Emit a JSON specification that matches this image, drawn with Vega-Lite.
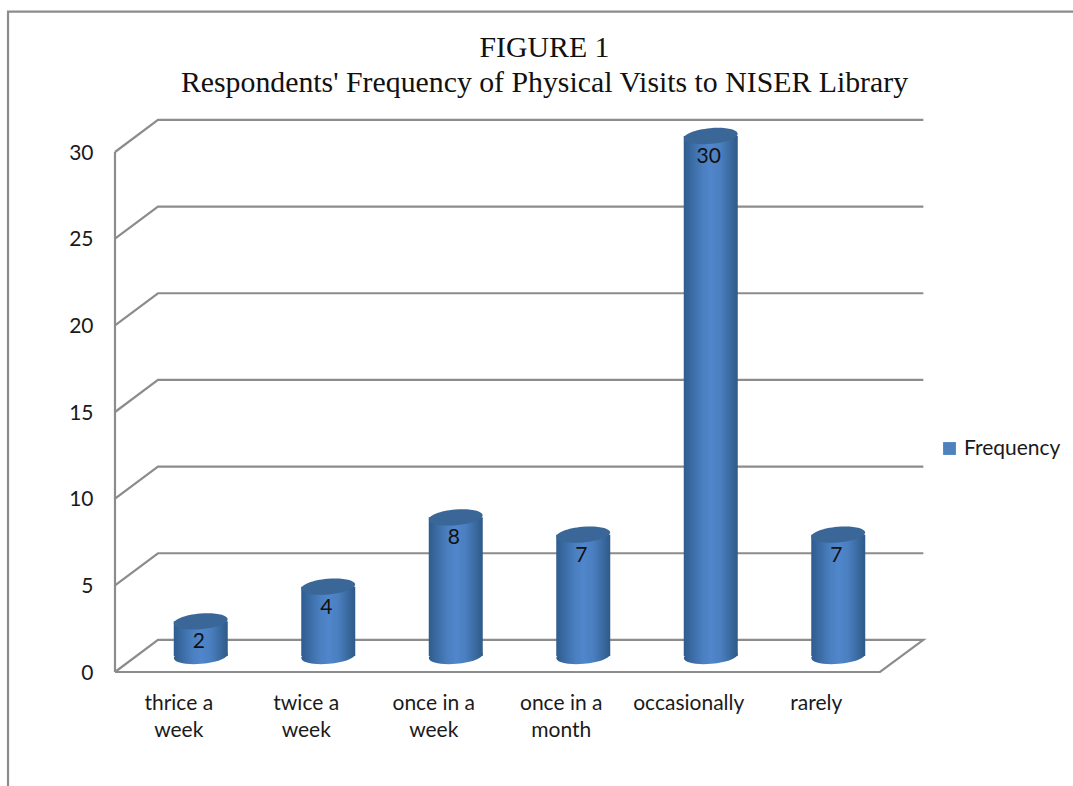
{
"$schema":"https://vega.github.io/schema/vega-lite/v6.json",
"width":765,"height":520,
"autosize":{"type":"none"},
"padding":{"left":115,"top":152,"right":193,"bottom":114},
"background":"white",
"title":{"text":["FIGURE 1","Respondents' Frequency of Physical Visits to NISER Library"],"font":"Liberation Serif","fontSize":29.8,"fontWeight":"normal","color":"#111111","lineHeight":35,"anchor":"middle","frame":"group","dx":47,"offset":-91},
"config":{"view":{"stroke":null}},
"datasets":{
"freq":[
{"category":"thrice a week","frequency":2,"series":"Frequency"},
{"category":"twice a week","frequency":4,"series":"Frequency"},
{"category":"once in a week","frequency":8,"series":"Frequency"},
{"category":"once in a month","frequency":7,"series":"Frequency"},
{"category":"occasionally","frequency":30,"series":"Frequency"},
{"category":"rarely","frequency":7,"series":"Frequency"}
],
"walls":[
{"line":"g30","step":1,"wx":0,"wy":30},{"line":"g30","step":2,"wx":0.337,"wy":31.85},{"line":"g30","step":3,"wx":6.34,"wy":31.85},
{"line":"g25","step":1,"wx":0,"wy":25},{"line":"g25","step":2,"wx":0.337,"wy":26.85},{"line":"g25","step":3,"wx":6.34,"wy":26.85},
{"line":"g20","step":1,"wx":0,"wy":20},{"line":"g20","step":2,"wx":0.337,"wy":21.85},{"line":"g20","step":3,"wx":6.34,"wy":21.85},
{"line":"g15","step":1,"wx":0,"wy":15},{"line":"g15","step":2,"wx":0.337,"wy":16.85},{"line":"g15","step":3,"wx":6.34,"wy":16.85},
{"line":"g10","step":1,"wx":0,"wy":10},{"line":"g10","step":2,"wx":0.337,"wy":11.85},{"line":"g10","step":3,"wx":6.34,"wy":11.85},
{"line":"g5","step":1,"wx":0,"wy":5},{"line":"g5","step":2,"wx":0.337,"wy":6.85},{"line":"g5","step":3,"wx":6.34,"wy":6.85},
{"line":"floor","step":1,"wx":0,"wy":0},{"line":"floor","step":2,"wx":0.337,"wy":1.85},{"line":"floor","step":3,"wx":6.34,"wy":1.85},{"line":"floor","step":4,"wx":6,"wy":0},{"line":"floor","step":5,"wx":0,"wy":0},
{"line":"left","step":1,"wx":0,"wy":0},{"line":"left","step":2,"wx":0,"wy":30},
{"line":"frame","step":1,"wx":-0.839,"wy":-6.6},{"line":"frame","step":2,"wx":-0.839,"wy":38.1},{"line":"frame","step":3,"wx":7.52,"wy":38.1}
]
},
"resolve":{"scale":{"x":"independent"}},
"encoding":{
"y":{"type":"quantitative","scale":{"domain":[0,30],"nice":false}}
},
"layer":[
{"data":{"name":"walls"},
 "mark":{"type":"line","color":"#8c8c8c","strokeWidth":2.2,"clip":false},
 "encoding":{
  "x":{"field":"wx","type":"quantitative","scale":{"domain":[0,6],"nice":false,"zero":false},"axis":null},
  "y":{"field":"wy","type":"quantitative","axis":{"title":null,"values":[0,5,10,15,20,25,30],"grid":false,"ticks":false,"domain":false,"labelFont":"Lato","labelFontSize":21,"labelColor":"#1a1a1a","labelPadding":22,"labelOffset":1}},
  "detail":{"field":"line"},
  "order":{"field":"step","type":"quantitative"}
 }},
{"data":{"name":"freq"},
 "layer":[
 {"mark":{"type":"point","shape":"square","filled":true,"size":60,"opacity":1,"xOffset":22,"yOffset":-16},
  "encoding":{
   "x":{"field":"category","type":"nominal","sort":null,"scale":{"paddingInner":0,"paddingOuter":0},"axis":{"title":null,"labelAngle":0,"domain":false,"ticks":false,"labelFont":"Lato","labelFontSize":21,"labelColor":"#1a1a1a","labelPadding":31,"labelLineHeight":27,"labelBaseline":"middle","labelExpr":"split(replace(replace(datum.label,'a week','a|week'),'a month','a|month'),'|')"}},
   "y":{"datum":0},
   "color":{"field":"series","type":"nominal","scale":{"range":["#4f81bd"]},"legend":{"title":null,"orient":"none","legendX":824,"legendY":286,"symbolType":"square","symbolSize":165,"symbolOpacity":1,"labelFont":"Lato","labelFontSize":21,"labelColor":"#1a1a1a"}}
  }},
 {"mark":{"type":"point","shape":"M-1,0A1,0.29 0 1,1 1,0A1,0.29 0 1,1 -1,0Z","filled":true,"opacity":1,"size":2916,"angle":-5,"xOffset":22,"yOffset":-16,
   "fill":{"gradient":"linear","x1":0,"y1":0,"x2":1,"y2":0,"stops":[{"offset":0,"color":"#2f5c8f"},{"offset":0.35,"color":"#4a7fc0"},{"offset":0.5,"color":"#5086cb"},{"offset":0.68,"color":"#4a7fc0"},{"offset":1,"color":"#2f5a88"}]}},
  "encoding":{"x":{"field":"category","type":"nominal","sort":null},"y":{"datum":0}}},
 {"mark":{"type":"bar","width":54,"xOffset":22,"x2Offset":22,"yOffset":-16,"y2Offset":-16,
   "fill":{"gradient":"linear","x1":0,"y1":0,"x2":1,"y2":0,"stops":[{"offset":0,"color":"#2f5c8f"},{"offset":0.35,"color":"#4a7fc0"},{"offset":0.5,"color":"#5086cb"},{"offset":0.68,"color":"#4a7fc0"},{"offset":1,"color":"#2f5a88"}]}},
  "encoding":{"x":{"field":"category","type":"nominal","sort":null},"y":{"field":"frequency","type":"quantitative"},"y2":{"datum":0}}},
 {"mark":{"type":"point","shape":"M-1,0A1,0.29 0 1,1 1,0A1,0.29 0 1,1 -1,0Z","filled":true,"opacity":1,"size":2916,"angle":-5,"xOffset":22,"yOffset":-16,"fill":"#3a6798"},
  "encoding":{"x":{"field":"category","type":"nominal","sort":null},"y":{"field":"frequency","type":"quantitative"}}},
 {"mark":{"type":"text","font":"Lato","fontSize":21,"color":"#111111","xOffset":20,"yOffset":5},
  "encoding":{"x":{"field":"category","type":"nominal","sort":null},"y":{"field":"frequency","type":"quantitative"},"text":{"field":"frequency","type":"quantitative"}}}
 ]}
]
}
